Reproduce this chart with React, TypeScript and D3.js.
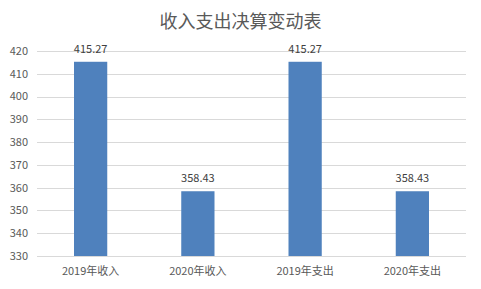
import React, { useRef, useEffect } from 'react';
import * as d3 from 'd3';

const categories = ['2019年收入', '2020年收入', '2019年支出', '2020年支出'];
const values = [415.27, 358.43, 415.27, 358.43];
const yTicks = [330, 340, 350, 360, 370, 380, 390, 400, 410, 420];
const title = '收入支出决算变动表';

const App = () => {
  const svgRef = useRef<SVGSVGElement>(null);

  useEffect(() => {
    const width = 481;
    const height = 289;
    const margin = { top: 51, right: 15, bottom: 33, left: 37 };
    const font = '"Noto Sans CJK SC", "Liberation Sans", sans-serif';

    const svg = d3.select(svgRef.current)
      .attr('width', width)
      .attr('height', height)
      .style('display', 'block');
    svg.selectAll('*').remove();

    // 背景和边框
    svg.append('rect')
      .attr('x', 0.5).attr('y', 0.5)
      .attr('width', width - 1).attr('height', height - 1)
      .attr('fill', '#fff')
      .attr('stroke', '#d9d9d9');

    const x = d3.scaleBand()
      .domain(categories)
      .range([margin.left, width - margin.right])
      .paddingInner(0.69)
      .paddingOuter(0.345);

    const y = d3.scaleLinear()
      .domain([330, 420])
      .range([height - margin.bottom, margin.top]);

    // 网格线
    svg.append('g')
      .selectAll('line')
      .data(yTicks)
      .join('line')
      .attr('x1', margin.left)
      .attr('x2', width - margin.right)
      .attr('y1', d => Math.round(y(d)) + 0.5)
      .attr('y2', d => Math.round(y(d)) + 0.5)
      .attr('stroke', '#d9d9d9')
      .attr('stroke-width', 1);

    // y 轴标签
    svg.append('g')
      .selectAll('text')
      .data(yTicks)
      .join('text')
      .attr('x', margin.left - 9)
      .attr('y', d => y(d))
      .attr('dy', '0.35em')
      .attr('text-anchor', 'end')
      .attr('font-family', font)
      .attr('font-size', 11)
      .attr('fill', '#595959')
      .text(d => d);

    // 柱子
    svg.append('g')
      .selectAll('rect')
      .data(values)
      .join('rect')
      .attr('x', (d, i) => x(categories[i])!)
      .attr('width', x.bandwidth())
      .attr('y', d => y(d))
      .attr('height', d => y(330) - y(d))
      .attr('fill', '#4f81bd');

    // 数值标签
    svg.append('g')
      .selectAll('text')
      .data(values)
      .join('text')
      .attr('x', (d, i) => x(categories[i])! + x.bandwidth() / 2)
      .attr('y', d => y(d) - 9)
      .attr('text-anchor', 'middle')
      .attr('font-family', font)
      .attr('font-size', 11)
      .attr('fill', '#404040')
      .text(d => d.toFixed(2));

    // x 轴标签
    svg.append('g')
      .selectAll('text')
      .data(categories)
      .join('text')
      .attr('x', d => x(d)! + x.bandwidth() / 2)
      .attr('y', height - margin.bottom + 15)
      .attr('dy', '0.35em')
      .attr('text-anchor', 'middle')
      .attr('font-family', font)
      .attr('font-size', 11)
      .attr('fill', '#595959')
      .text(d => d);

    // 标题
    svg.append('text')
      .attr('x', width / 2)
      .attr('y', 22)
      .attr('dy', '0.35em')
      .attr('text-anchor', 'middle')
      .attr('font-family', font)
      .attr('font-size', 18)
      .attr('fill', '#595959')
      .text(title);
  }, []);

  return (
    <div style={{ margin: -8 }}>
      <svg ref={svgRef}></svg>
    </div>
  );
};

export default App;
